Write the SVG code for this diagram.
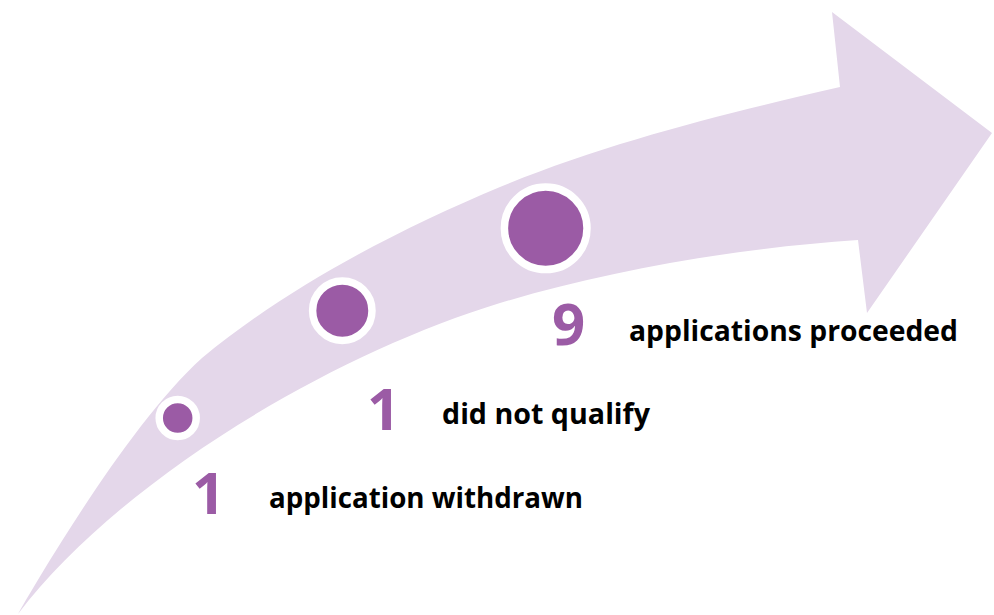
<svg xmlns="http://www.w3.org/2000/svg" width="994" height="615" viewBox="0 0 994 615">
<style>
.arrow{fill:#e4d7ea}
.dot{fill:#9b5ba5;stroke:#ffffff;stroke-width:7.5}
.num{font-family:"Open Sans","Liberation Sans",sans-serif;font-weight:bold;font-size:58px;fill:#9b5ba5}
.lbl{font-family:"Open Sans","Liberation Sans",sans-serif;font-weight:bold;font-size:29px;fill:#000000}
</style>
<rect width="994" height="615" fill="#ffffff"/>
<g id="arrow">
<path class="arrow" d="M18,614 C50,558 135,418 202,358 C290,285 400,229 500,187 C610,141 740,110 840,87 L832,12 L992,133 L867,313 L858,240 C738,248 610,270 500,303 C330,355 120,480 18,614 Z"/>
</g>
<g id="step1">
<circle class="dot" cx="177.7" cy="418" r="18.5"/>
<text class="num" x="192" y="514">1</text>
<text class="lbl" x="269" y="508" textLength="314" lengthAdjust="spacingAndGlyphs">application withdrawn</text>
</g>
<g id="step2">
<circle class="dot" cx="342.3" cy="310.7" r="29.7"/>
<text class="num" x="367" y="430">1</text>
<text class="lbl" x="442" y="424" textLength="208" lengthAdjust="spacingAndGlyphs">did not qualify</text>
</g>
<g id="step3">
<circle class="dot" cx="545.7" cy="228.3" r="41.3"/>
<text class="num" x="552" y="345">9</text>
<text class="lbl" x="629" y="341" textLength="329" lengthAdjust="spacingAndGlyphs">applications proceeded</text>
</g>
</svg>
